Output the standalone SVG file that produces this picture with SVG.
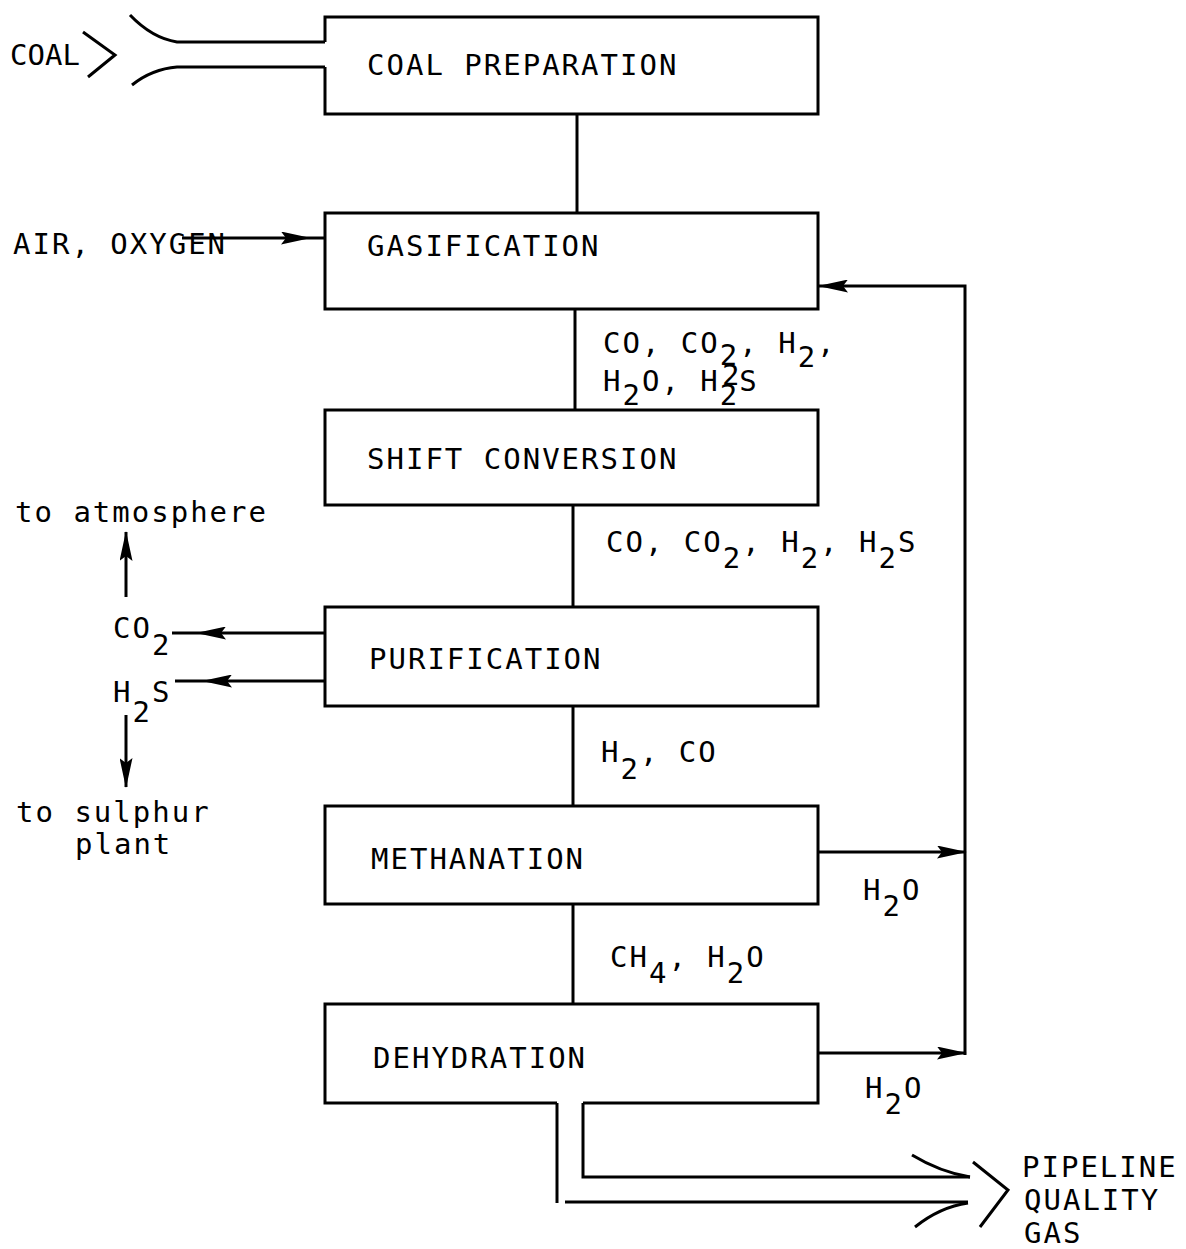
<svg xmlns="http://www.w3.org/2000/svg" width="1186" height="1249" viewBox="0 0 1186 1249">
<style>
.t{font-family:"DejaVu Sans Mono","Liberation Mono",monospace;font-size:29px;letter-spacing:2px;fill:#000}
.b{fill:#fff;stroke:#000;stroke-width:3}
.c{fill:none;stroke:#000;stroke-width:3}
.a{marker-mid:url(#ah)}
.e{marker-end:url(#ah)}
</style>
<defs>
<marker id="ah" markerUnits="userSpaceOnUse" viewBox="0 0 30 13" markerWidth="30" markerHeight="13" refX="29" refY="6.5" orient="auto">
<path d="M0,0 L30,6.5 L0,13 L5,6.5 Z" fill="#000"/>
</marker>
</defs>
<rect width="1186" height="1249" fill="#fff"/>

<g id="connectors">
<path class="c" d="M130,15 Q152,38 177,42 H325"/>
<path class="c" d="M132,85 Q152,69 177,67 H325"/>
<path class="c" d="M83,32 L115,55 L88,77"/>
<path class="c" d="M577,114 V213"/>
<path class="c" d="M575,309 V410"/>
<path class="c" d="M573,505 V607"/>
<path class="c" d="M573,706 V806"/>
<path class="c" d="M573,904 V1004"/>
<path class="c a" d="M182,238 L310,238 L325,238"/>
<path class="c a" d="M325,633 L197,633 L172,633"/>
<path class="c a" d="M325,681 L203,681 L175,681"/>
<path class="c e" d="M126,597 V532"/>
<path class="c e" d="M126,715 V787"/>
<path class="c e" d="M965,1055 V286 H819"/>
<path class="c e" d="M818,852 H966"/>
<path class="c e" d="M818,1053 H966"/>
<path class="c" d="M557,1103 V1203"/>
<path class="c" d="M583,1103 V1177 H970"/>
<path class="c" d="M565,1202 H968"/>
<path class="c" d="M912,1155 Q940,1172 970,1177"/>
<path class="c" d="M915,1227 Q940,1207 968,1203"/>
<path class="c" d="M973,1162 L1008,1190 L980,1227"/>
</g>

<g id="coal-preparation">
<path class="b" d="M325,42 V17 H818 V114 H325 V67"/>
<text class="t" x="367" y="75">COAL PREPARATION</text>
</g>
<g id="gasification">
<rect class="b" x="325" y="213" width="493" height="96"/>
<text class="t" x="367" y="256">GASIFICATION</text>
</g>
<g id="shift-conversion">
<rect class="b" x="325" y="410" width="493" height="95"/>
<text class="t" x="367" y="469">SHIFT CONVERSION</text>
</g>
<g id="purification">
<rect class="b" x="325" y="607" width="493" height="99"/>
<text class="t" x="369" y="669">PURIFICATION</text>
</g>
<g id="methanation">
<rect class="b" x="325" y="806" width="493" height="98"/>
<text class="t" x="371" y="869">METHANATION</text>
</g>
<g id="dehydration">
<path class="b" d="M557,1103 H325 V1004 H818 V1103 H583"/>
<text class="t" x="373" y="1068">DEHYDRATION</text>
</g>

<g id="labels">
<text class="t" x="10" y="65" style="letter-spacing:0">COAL</text>
<text class="t" x="13" y="254">AIR, OXYGEN</text>
<text class="t" x="603" y="353">CO, CO<tspan dy="12">2</tspan><tspan dy="-12">, H</tspan><tspan dy="14">2</tspan><tspan dy="-14">,</tspan></text>
<text class="t" x="603" y="391">H<tspan dy="14">2</tspan><tspan dy="-14">O, H</tspan><tspan dy="14">2</tspan><tspan dy="-14">S</tspan></text>
<text class="t" x="722" y="385">2</text>
<text class="t" x="606" y="552">CO, CO<tspan dy="16">2</tspan><tspan dy="-16">, H</tspan><tspan dy="16">2</tspan><tspan dy="-16">, H</tspan><tspan dy="16">2</tspan><tspan dy="-16">S</tspan></text>
<text class="t" x="15" y="522">to atmosphere</text>
<text class="t" x="113" y="638">CO<tspan dy="17">2</tspan></text>
<text class="t" x="113" y="702">H<tspan dy="20">2</tspan><tspan dy="-20">S</tspan></text>
<text class="t" x="601" y="762">H<tspan dy="17">2</tspan><tspan dy="-17">, CO</tspan></text>
<text class="t" x="16" y="822">to sulphur</text>
<text class="t" x="75" y="854">plant</text>
<text class="t" x="863" y="900">H<tspan dy="16">2</tspan><tspan dy="-16">O</tspan></text>
<text class="t" x="610" y="967">CH<tspan dy="16">4</tspan><tspan dy="-16">, H</tspan><tspan dy="16">2</tspan><tspan dy="-16">O</tspan></text>
<text class="t" x="865" y="1098">H<tspan dy="16">2</tspan><tspan dy="-16">O</tspan></text>
<text class="t" x="1022" y="1177">PIPELINE</text>
<text class="t" x="1024" y="1210">QUALITY</text>
<text class="t" x="1024" y="1243">GAS</text>
</g>
</svg>
